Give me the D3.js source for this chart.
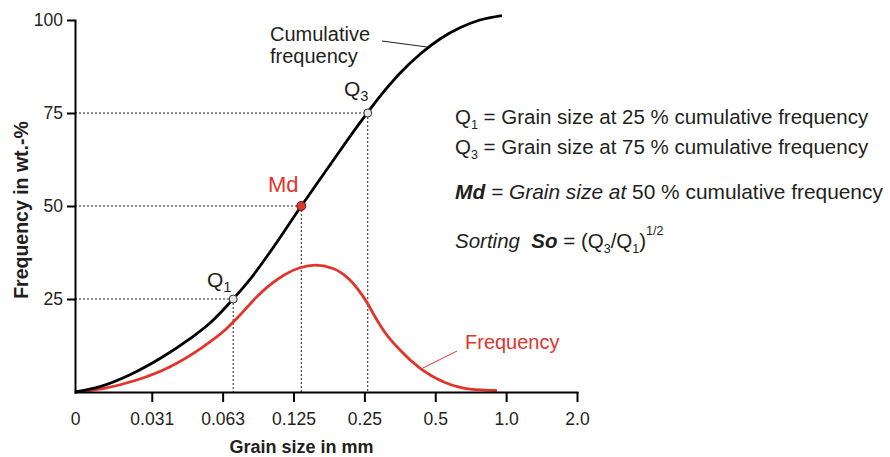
<!DOCTYPE html>
<html>
<head>
<meta charset="utf-8">
<script src="https://cdn.jsdelivr.net/npm/d3@7"></script>
<style>
  html, body { margin: 0; padding: 0; background: #fff; }
  svg { display: block; font-family: "Liberation Sans", Arial, sans-serif; }
  text { white-space: pre; }
</style>
</head>
<body>
<svg id="chart" width="890" height="457"></svg>
<script>
// ---------- data ----------
const xMin = 0.01475; // position of the "0" label on the log2 grain-size axis
const xTickValues = [xMin, 0.03125, 0.0625, 0.125, 0.25, 0.5, 1, 2];
const xTickLabels = ["0", "0.031", "0.063", "0.125", "0.25", "0.5", "1.0", "2.0"];
const yTickValues = [25, 50, 75, 100];

// cumulative frequency curve (grain size mm, wt.-%)
const cumSize = [xMin, 0.01885, 0.02527, 0.03389, 0.04545, 0.05525, 0.0693, 0.08199, 0.09931, 0.1349, 0.1785, 0.2395, 0.2912, 0.3541, 0.4305, 0.5234, 0.6364, 0.7738, 0.9598];
const cumValue = [0, 1.45, 4.65, 9.0, 14.33, 18.55, 25, 30.4, 37.6, 50, 61.0, 72.4, 79.5, 85.7, 90.8, 94.9, 97.9, 100, 101.2];

// frequency curve
const freqSize = [xMin, 0.01941, 0.0268, 0.03738, 0.05161, 0.06398, 0.07409, 0.08579, 0.09934, 0.115, 0.1332, 0.1542, 0.1839, 0.2171, 0.2515, 0.2856, 0.3058, 0.3541, 0.4305, 0.5497, 0.7019, 0.9141];
const freqValue = [0, 0.94, 3.15, 6.8, 12.15, 16.67, 20.7, 25.1, 28.8, 31.6, 33.4, 34.1, 33.2, 30.1, 24.9, 18.9, 16.0, 11.3, 6.4, 2.55, 0.8, 0.4];

// quartile points
const qNames = ["Q1", "Md", "Q3"];
const qSize = [0.0693, 0.1349, 0.2584];
const qPct = [25, 50, 75];

// ---------- drawing ----------
const RED = "#e2342b";
const INK = "#231f20";
const svg = d3.select("#chart");

const x = d3.scaleLog().base(2).domain([xMin, 2]).range([75, 577]);
const y = d3.scaleLinear().domain([0, 100]).range([392, 20]);

const cum = cumSize.map((s, i) => [s, cumValue[i]]);
const freq = freqSize.map((s, i) => [s, freqValue[i]]);
const line = d3.line().x(d => x(d[0])).y(d => y(d[1])).curve(d3.curveMonotoneX);

// dotted guide lines
const guides = svg.append("g").attr("stroke", INK).attr("stroke-width", 1).attr("stroke-dasharray", "2,2");
qSize.forEach((s, i) => {
  guides.append("line").attr("x1", x(xMin)).attr("x2", x(s)).attr("y1", y(qPct[i])).attr("y2", y(qPct[i]));
  guides.append("line").attr("x1", x(s)).attr("x2", x(s)).attr("y1", y(qPct[i])).attr("y2", y(0));
});

// curves
svg.append("path").datum(freq).attr("d", line).attr("fill", "none").attr("stroke", RED).attr("stroke-width", 2.8);
svg.append("path").datum(cum).attr("d", line).attr("fill", "none").attr("stroke", "#000").attr("stroke-width", 2.8);

// axes
const xAxis = d3.axisBottom(x).tickValues(xTickValues).tickFormat((d, i) => xTickLabels[i]).tickSize(10).tickSizeOuter(0).tickPadding(11);
const gx = svg.append("g").attr("transform", `translate(0,${y(0)})`).call(xAxis);
const yAxis = d3.axisLeft(y).tickValues(yTickValues).tickSize(8).tickSizeOuter(0).tickPadding(4);
const gy = svg.append("g").attr("transform", `translate(${x(xMin)},0)`).call(yAxis);
[gx, gy].forEach(g => {
  g.select(".domain").attr("stroke", "#000").attr("stroke-width", 2).attr("stroke-linecap", "square");
  g.selectAll(".tick line").attr("stroke", "#000").attr("stroke-width", 2);
  g.selectAll(".tick text").attr("fill", INK).style("font-size", "17.5px").style("font-family", "Liberation Sans, Arial, sans-serif");
});
gx.selectAll(".tick").filter((d, i) => i === 0).select("line").remove();

// axis titles
svg.append("text").attr("x", 301.5).attr("y", 453).attr("text-anchor", "middle")
  .attr("fill", INK).style("font-size", "18px").style("font-weight", "bold").text("Grain size in mm");
svg.append("text").attr("transform", "translate(28,210) rotate(-90)").attr("text-anchor", "middle")
  .attr("fill", INK).style("font-size", "19.5px").style("font-weight", "bold").text("Frequency in wt.-%");

// points
qSize.forEach((s, i) => {
  const isMd = qNames[i] === "Md";
  svg.append("circle").attr("cx", x(s)).attr("cy", y(qPct[i])).attr("r", isMd ? 4.5 : 4)
    .attr("fill", isMd ? RED : "#e6e6e6").attr("stroke", isMd ? "#6b1a14" : "#333").attr("stroke-width", 1);
});

// point labels
function qLabel(px, py, sub, color, size) {
  const t = svg.append("text").attr("x", px).attr("y", py).attr("fill", color).style("font-size", size + "px");
  t.append("tspan").text("Q");
  t.append("tspan").attr("dy", 5).style("font-size", (size * 0.7) + "px").text(sub);
}
qLabel(207, 287, "1", INK, 21);
qLabel(344, 96, "3", INK, 21);
svg.append("text").attr("x", 268).attr("y", 192).attr("fill", RED).style("font-size", "22px").text("Md");

// curve labels
svg.append("text").attr("x", 270).attr("y", 41).attr("fill", INK).style("font-size", "20px").text("Cumulative");
svg.append("text").attr("x", 270).attr("y", 63).attr("fill", INK).style("font-size", "20px").text("frequency");
svg.append("line").attr("x1", 382).attr("y1", 41).attr("x2", 427).attr("y2", 47).attr("stroke", INK).attr("stroke-width", 1);

svg.append("text").attr("x", 465).attr("y", 349).attr("fill", RED).style("font-size", "20px").text("Frequency");
svg.append("line").attr("x1", 457).attr("y1", 351).attr("x2", 423).attr("y2", 368).attr("stroke", RED).attr("stroke-width", 1);

// definitions block
const defs = svg.append("g").attr("fill", INK).style("font-size", "20.5px");
function qLine(yy, sub, pct) {
  const t = defs.append("text").attr("x", 455).attr("y", yy);
  t.append("tspan").text("Q");
  t.append("tspan").attr("dy", 5).style("font-size", "12.5px").text(sub);
  t.append("tspan").attr("dy", -5).text(" = Grain size at " + pct + " % cumulative frequency");
}
qLine(124, "1", 25);
qLine(154, "3", 75);
const md = defs.append("text").attr("x", 455).attr("y", 199).style("font-size", "20.9px");
md.append("tspan").style("font-weight", "bold").style("font-style", "italic").text("Md");
md.append("tspan").style("font-style", "italic").text(" = Grain size at ");
md.append("tspan").text("50 % cumulative frequency");
const so = defs.append("text").attr("x", 455).attr("y", 248);
so.append("tspan").style("font-style", "italic").text("Sorting  ");
so.append("tspan").style("font-weight", "bold").style("font-style", "italic").text("So");
so.append("tspan").text(" = (Q");
so.append("tspan").attr("dy", 5).style("font-size", "12.5px").text("3");
so.append("tspan").attr("dy", -5).text("/Q");
so.append("tspan").attr("dy", 5).style("font-size", "12.5px").text("1");
so.append("tspan").attr("dy", -5).text(")");
so.append("tspan").attr("dy", -13).style("font-size", "12.5px").text("1/2");
</script>
</body>
</html>
